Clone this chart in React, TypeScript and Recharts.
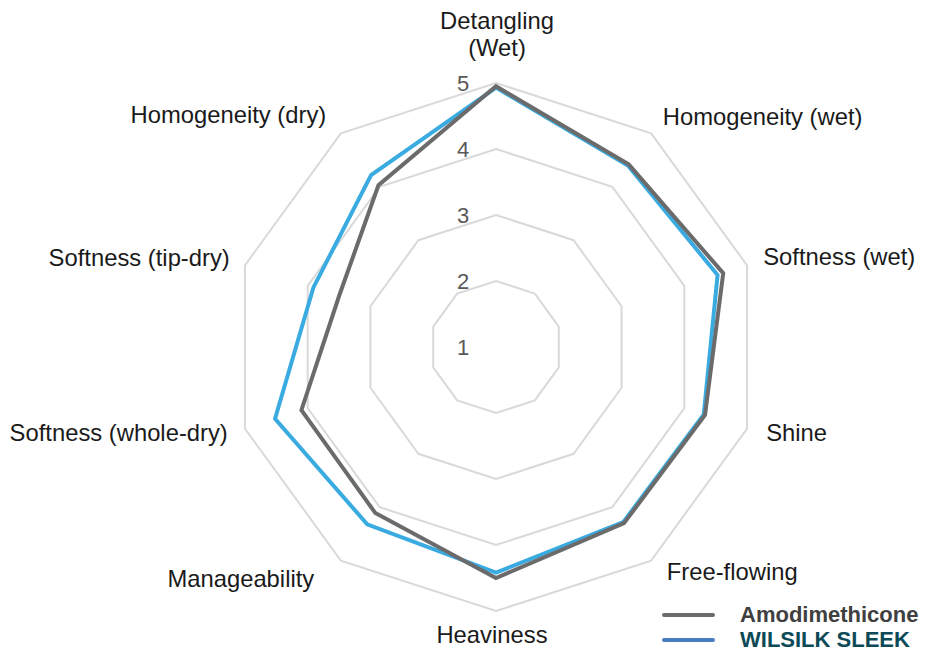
import React from "react";
import {
  RadarChart,
  Radar,
  PolarGrid,
  PolarAngleAxis,
  PolarRadiusAxis,
  Legend,
} from "recharts";

const categories = [
  "Detangling\n(Wet)",
  "Homogeneity (wet)",
  "Softness (wet)",
  "Shine",
  "Free-flowing",
  "Heaviness",
  "Manageability",
  "Softness (whole-dry)",
  "Softness (tip-dry)",
  "Homogeneity (dry)",
];

const amodimethicone = [4.95, 4.42, 4.62, 4.33, 4.3, 4.5, 4.11, 4.1, 3.5, 4.03];
const wilsilkSleek = [4.93, 4.4, 4.53, 4.31, 4.28, 4.42, 4.32, 4.52, 3.91, 4.22];

const radiusTicks = [1, 2, 3, 4, 5];

const seriesNames = ["Amodimethicone", "WILSILK SLEEK"];
const legendLineColors = ["#6b6b6b", "#4a7cc0"];
const legendTextColors = ["#404040", "#0d4a57"];

const data = categories.map((axis, i) => ({
  axis,
  amo: amodimethicone[i],
  wil: wilsilkSleek[i],
}));

const CX = 496;
const CY = 347;
const OUTER = 264;
const FONT = "'Liberation Sans', Arial, Helvetica, sans-serif";
const RAD = Math.PI / 180;
const LABEL_SIZE = 23.8;

// small nudges for the category labels: [extra radius, dx, dy]
const labelNudge: number[][] = [
  [0, 0, 0],
  [0, 1, -2],
  [0, -1, -3],
  [0, 2, -2],
  [0, 5, -4],
  [0, -4, 0],
  [0, -16, 3],
  [0, 0, -2],
  [0, 2, -2],
  [0, -4, -4],
];

function AngleTick(props: any) {
  const { payload, index } = props;
  const a = payload.coordinate;
  const cos = Math.cos(a * RAD);
  const sin = Math.sin(a * RAD);
  const lines = String(payload.value).split("\n");
  const nudge = labelNudge[index] || [0, 0, 0];
  let anchor = "middle";
  if (cos > 0.01) anchor = "start";
  else if (cos < -0.01) anchor = "end";

  if (sin > 0.99) {
    const y = CY - 300;
    return (
      <text x={CX} y={y} textAnchor="middle" fontFamily={FONT} fontSize={LABEL_SIZE} fill="#1a1a1a">
        {lines.map((l, i) => (
          <tspan key={i} x={CX + 1} y={y - (lines.length - 1 - i) * 27} dominantBaseline="central">
            {l}
          </tspan>
        ))}
      </text>
    );
  }
  const r = (sin < -0.99 ? 287 : 282) + nudge[0];
  const x = CX + r * cos + nudge[1];
  const y = CY - r * sin + nudge[2];
  return (
    <text
      x={x}
      y={y}
      textAnchor={anchor}
      dominantBaseline="central"
      fontFamily={FONT}
      fontSize={LABEL_SIZE}
      fill="#1a1a1a"
    >
      {lines[0]}
    </text>
  );
}

function RadiusTick(props: any) {
  const { x, y, payload } = props;
  return (
    <text
      x={x - 33}
      y={y}
      textAnchor="middle"
      dominantBaseline="central"
      fontFamily={FONT}
      fontSize={22}
      fill="#595959"
    >
      {payload.value}
    </text>
  );
}

function renderLegend() {
  return (
    <div style={{ fontFamily: FONT }}>
      {seriesNames.map((name, i) => (
        <div key={name} style={{ display: "flex", alignItems: "center", height: 25 }}>
          <div
            style={{
              width: 53,
              height: 4,
              borderRadius: 2,
              background: legendLineColors[i],
              marginRight: 25,
            }}
          />
          <span style={{ fontSize: 22, fontWeight: "bold", color: legendTextColors[i] }}>
            {name}
          </span>
        </div>
      ))}
    </div>
  );
}

export default function App() {
  return (
    <div style={{ position: "absolute", left: 0, top: 0, background: "#fff" }}>
      <RadarChart width={936} height={655} data={data} cx={CX} cy={CY} outerRadius={OUTER}>
        <PolarGrid gridType="polygon" radialLines={false} stroke="#d9d9d9" strokeWidth={2} />
        <PolarAngleAxis dataKey="axis" tick={<AngleTick />} tickLine={false} axisLine={false} />
        <PolarRadiusAxis
          type="number"
          angle={90}
          domain={[1, 5]}
          ticks={radiusTicks}
          axisLine={false}
          tickLine={false}
          tick={<RadiusTick />}
        />
        <Radar
          name={seriesNames[1]}
          dataKey="wil"
          stroke="#3aabe0"
          strokeWidth={4}
          fill="none"
          fillOpacity={0}
          isAnimationActive={false}
        />
        <Radar
          name={seriesNames[0]}
          dataKey="amo"
          stroke="#6b6b6b"
          strokeWidth={4}
          fill="none"
          fillOpacity={0}
          isAnimationActive={false}
        />
        <Legend
          content={renderLegend}
          wrapperStyle={{ position: "absolute", left: 662, top: 602, width: 270, bottom: "auto" }}
        />
      </RadarChart>
    </div>
  );
}
